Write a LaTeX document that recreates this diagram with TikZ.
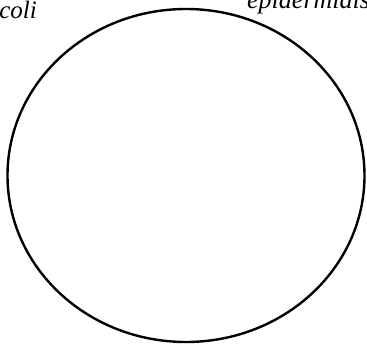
\documentclass[tikz,border=0pt]{standalone}
\usetikzlibrary{shapes.geometric}
\usepackage{fontspec}
\setmainfont{Liberation Serif}
\begin{document}
\begin{tikzpicture}[x=1pt,y=-1pt,
  lbl/.style={inner sep=0pt,font=\fontsize{#1}{#1}\selectfont\itshape},
  set/.style={draw=black,line width=2.4pt}]
\useasboundingbox (0,0) rectangle (367,343);
\begin{scope}
\clip (0,0) rectangle (367,343);
\node[set,ellipse,minimum width=357pt,minimum height=333pt,inner sep=0pt] (S) at (186,175.5) {};
\node[lbl=25,anchor=base east] (ec) at (37,18) {coli};
\node[lbl=26,anchor=base west] (se) at (247,8) {epidermidis};
\end{scope}
\end{tikzpicture}
\end{document}
